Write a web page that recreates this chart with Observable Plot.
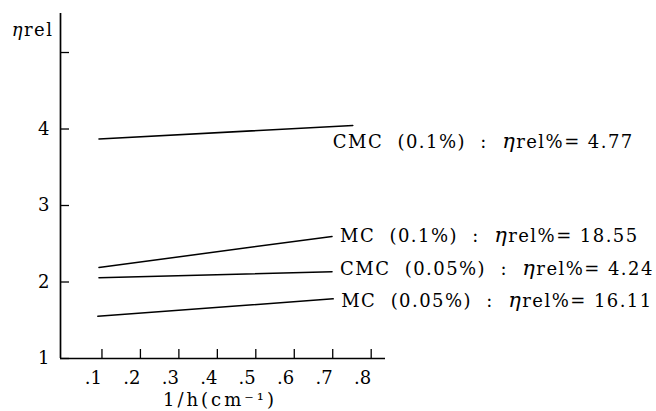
<!DOCTYPE html>
<html><head><meta charset="utf-8">
<script src="https://cdn.jsdelivr.net/npm/d3@7"></script>
<script src="https://cdn.jsdelivr.net/npm/@observablehq/plot@0.6"></script>
<style>
body{margin:0;background:#fff}
svg{display:block}
</style>
</head><body><div id="chart"></div>
<script>
// ---- data ----
const seriesNames = ["CMC (0.1%)", "MC (0.1%)", "CMC (0.05%)", "MC (0.05%)"];
const etaRelPct = ["4.77", "18.55", "4.24", "16.11"];
const xStart = [0.1, 0.1, 0.1, 0.097];
const xEnd = [0.76, 0.706, 0.706, 0.709];
const yStart = [3.87, 2.19, 2.055, 1.553];
const yEnd = [4.046, 2.595, 2.133, 1.78];
const xTicks = [0.1, 0.2, 0.3, 0.4, 0.5, 0.6, 0.7, 0.8];
const xTickLabels = [".1", ".2", ".3", ".4", ".5", ".6", ".7", ".8"];
const yTicks = [1, 2, 3, 4, 5];
const yTickLabels = ["1", "2", "3", "4", ""];
const xTitle = "1/h(cm⁻¹)";
const yTitle = "ηrel";

// ---- build tables ----
const segs = seriesNames.map((name, i) => ({
  name, v: etaRelPct[i], x1: xStart[i], y1: yStart[i], x2: xEnd[i], y2: yEnd[i]
}));
const lineRows = segs.flatMap(s => [{name: s.name, x: s.x1, y: s.y1}, {name: s.name, x: s.x2, y: s.y2}]);

const labelOffsets = [[-20, 17], [8, 0], [8, -3], [8, 2]];
const font = "DejaVu Serif, serif";

const labelMarks = segs.map((s, i) => Plot.text([s], {
  x: "x2", y: "y2",
  text: d => `${d.name.replace(" ", "  ")}  :  ηrel%= ${d.v}`,
  textAnchor: "start", lineAnchor: "middle",
  dx: labelOffsets[i][0], dy: labelOffsets[i][1],
  fontSize: 18, fill: "black"
}));

const chart = Plot.plot({
  width: 656, height: 411,
  marginLeft: 60, marginRight: 271, marginTop: 13, marginBottom: 53,
  style: {fontFamily: font, fontSize: "18px", color: "black", background: "white"},
  x: {domain: [0, 0.845]},
  y: {domain: [1, 5.51]},
  marks: [
    Plot.axisX({ticks: xTicks, tickSize: -9, tickPadding: 22, textAnchor: "end", dx: 3,
      tickFormat: d => xTickLabels[xTicks.indexOf(d)] ?? "",
      label: null, stroke: "black", strokeWidth: 1.3, fontSize: 18}),
    Plot.axisY({ticks: yTicks, tickSize: -9, tickPadding: 20,
      tickFormat: d => yTickLabels[yTicks.indexOf(d)] ?? "",
      label: null, stroke: "black", strokeWidth: 1.3, fontSize: 18}),
    Plot.ruleX([0], {stroke: "black", strokeWidth: 1.7}),
    Plot.ruleY([1], {stroke: "black", strokeWidth: 1.7}),
    Plot.line(lineRows, {x: "x", y: "y", z: "name", stroke: "black", strokeWidth: 1.5}),
    ...labelMarks,
    Plot.text([yTitle], {frameAnchor: "top-left", lineAnchor: "middle", dx: -7, dy: 17, textAnchor: "end", fontSize: 18, fill: "black"}),
    Plot.text([xTitle], {frameAnchor: "bottom", lineAnchor: "middle", dx: -3, dy: 42, fontSize: 18, fill: "black"})
  ]
});

// italic eta, as in the reference typesetting
const ns = "http://www.w3.org/2000/svg";
chart.querySelectorAll("text").forEach(t => {
  const s = t.textContent;
  if (s.includes("η") && t.children.length === 0) {
    const [a, b] = s.split("η");
    t.textContent = "";
    const t1 = document.createElementNS(ns, "tspan"); t1.textContent = a;
    const t2 = document.createElementNS(ns, "tspan"); t2.textContent = "η";
    t2.setAttribute("font-style", "italic");
    t2.setAttribute("font-size", s.length > 6 ? "21" : "18");
    const t3 = document.createElementNS(ns, "tspan"); t3.textContent = b;
    t.append(t1, t2, t3);
  }
});
chart.querySelectorAll("text").forEach(t => {
  if (t.textContent.includes("ηrel%")) t.setAttribute("letter-spacing", "1.45");
  else if (t.textContent === yTitle) t.setAttribute("letter-spacing", "1.5");
  else if (t.textContent === xTitle) t.setAttribute("letter-spacing", "3");
});

document.getElementById("chart").append(chart);
</script>
</body></html>
